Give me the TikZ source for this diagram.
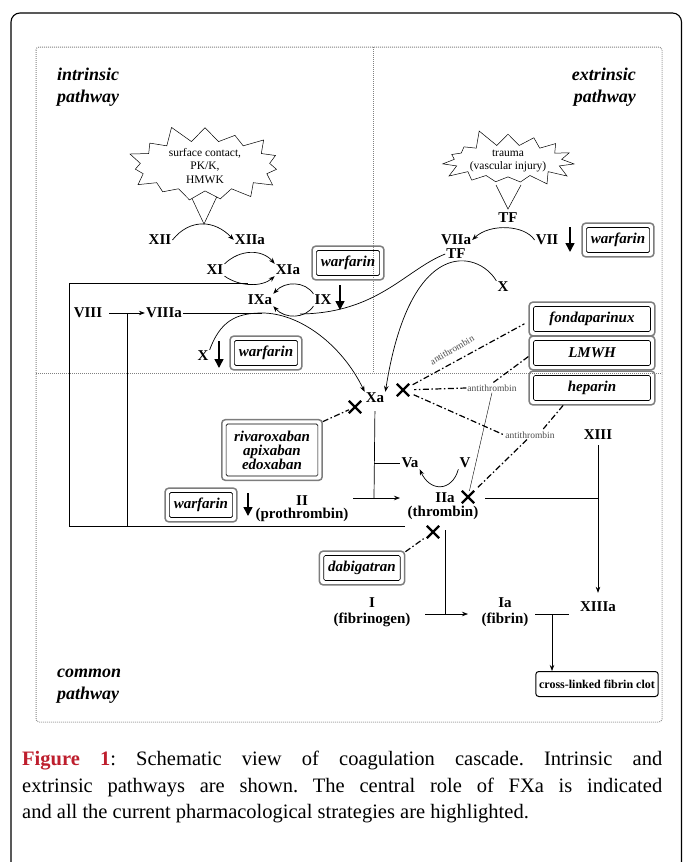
\documentclass[tikz,border=0pt]{standalone}
\usepackage{fontspec}
\setmainfont{Liberation Serif}
\usepackage{xcolor}
\usetikzlibrary{arrows.meta, shapes.symbols, shapes.misc, calc, positioning}
\tikzset{>=Stealth}
\definecolor{figred}{RGB}{190,30,45}
\definecolor{boxgray}{RGB}{125,125,125}
\tikzset{
  factor/.style={font=\fontsize{15}{14}\selectfont\bfseries, inner sep=1pt, align=center},
  pathlabel/.style={font=\fontsize{18}{22}\selectfont\bfseries\itshape, inner sep=0pt},
  drug/.style={draw, line width=0.6pt, rounded corners=1.5pt, inner xsep=4.5pt, inner ysep=2pt,
    minimum height=25pt, align=center, font=\fontsize{15}{14}\selectfont\bfseries\itshape,
    append after command={\pgfextra{\draw[boxgray, line width=1.5pt, rounded corners=3.5pt]
      ([shift={(-4pt,-4pt)}]\tikzlastnode.south west) rectangle
      ([shift={(4pt,4pt)}]\tikzlastnode.north east);}}},
  burst/.style={starburst, draw, fill=white, line width=0.5pt, starburst points=15,
    starburst point height=18pt, random starburst=11, align=center, inner sep=0pt,
    font=\fontsize{11.5}{13.5}\selectfont},
  xmark/.style={cross out, draw, line width=2.3pt, minimum size=10pt, inner sep=0pt},
  inhib/.style={line width=1.2pt, dash pattern=on 6pt off 2.5pt on 1.5pt off 2.5pt},
  atlabel/.style={font=\fontsize{9.5}{10}\selectfont, text=black!70, inner sep=1pt},
  link/.style={line width=0.7pt},
  act/.style={line width=0.7pt, -{Stealth[length=6pt,width=4.5pt]}},
  down/.style={line width=1.5pt, -{Triangle[length=9pt,width=9pt]}},
  dotline/.style={black!50, line width=1pt, dash pattern=on 0.8pt off 1.2pt},
  clotbox/.style={draw, line width=1pt, rounded corners=3pt, minimum width=120pt, minimum height=25pt,
    font=\fontsize{12}{12}\selectfont\bfseries},
}

\begin{document}
\begin{tikzpicture}[x=1pt, y=-1pt]
\useasboundingbox (0,0) rectangle (683,862);
% frames and pathway areas
\draw[line width=1.1pt, rounded corners=9pt] (11,13) rectangle (681.5,900);
\draw[dotline, rounded corners=3pt] (36,47) rectangle (662,722);
\draw[dotline] (373,47) -- (373,373);
\draw[dotline] (36,373) -- (662,373);

\node[pathlabel, anchor=base west] (intrA) at (57,80) {intrinsic};
\node[pathlabel, anchor=base west] (intrB) at (57,102) {pathway};
\node[pathlabel, anchor=base east] (extrA) at (636,80) {extrinsic};
\node[pathlabel, anchor=base east] (extrB) at (636,102) {pathway};
\node[pathlabel, anchor=base west] (commA) at (57,677) {common};
\node[pathlabel, anchor=base west] (commB) at (57,699) {pathway};

% triggers
\coordinate (contactTip) at (204,224);
\draw[line width=0.5pt] (188,190) -- (contactTip) -- (220,190);
\node[burst, minimum width=166pt, minimum height=62pt] (contact) at (205,166) {surface contact,\\PK/K,\\HMWK};
\coordinate (traumaTip) at (508,209);
\draw[line width=0.5pt] (496,185) -- (traumaTip) -- (521,185);
\node[burst, minimum width=122pt, minimum height=58pt, random starburst=5] (trauma) at (508,161) {trauma\\(vascular injury)};

% intrinsic pathway
\node[factor] (xii) at (160,240) {XII};
\node[factor] (xiia) at (250,240) {XIIa};
\draw[act] (xii.east) .. controls (190,218) and (215,220) .. (xiia.west);

\node[factor] (xi) at (215,270) {XI};
\node[factor] (xia) at (288,270) {XIa};
\draw[act] (xi.north east) .. controls (240,249) and (262,249) .. (xia.north west);
\draw[act] (xi.south east) .. controls (240,287) and (262,287) .. (xia.south west);

\node[drug] (warfA) at (348,263) {warfarin};
\node[factor] (ixa) at (260,300) {IXa};
\node[factor] (ix) at (323,300) {IX};
\draw[act] (ix.north west) .. controls (305,281) and (285,281) .. (ixa.north east);
\draw[act] (ix.south west) .. controls (305,319) and (285,319) .. (ixa.south east);
\coordinate (ixTop) at (340,285);
\coordinate (ixBot) at (340,310);
\draw[down] (ixTop) -- (ixBot);

\node[factor] (viii) at (88,313) {VIII};
\node[factor] (viiia) at (164,313) {VIIIa};
\draw[act, shorten <=6pt] (viii) -- (viiia);
\coordinate (tenase) at (262,313);
\draw[link] (viiia.east) -- (tenase);

\node[factor] (x) at (203,356) {X};
\coordinate (xTop) at (219,341);
\coordinate (xBot) at (219,368);
\draw[down] (xTop) -- (xBot);
\node[drug] (warfB) at (266,353) {warfarin};

% extrinsic pathway
\node[factor] (tf) at (508,218) {TF};
\node[factor] (viia) at (456,240) {VIIa};
\node[factor] (tfb) at (456,254) {TF};
\node[factor] (vii) at (547,240) {VII};
\draw[act] (vii.west) .. controls (525,225) and (490,223) .. (viia.east);
\coordinate (viiTop) at (570,227);
\coordinate (viiBot) at (570,252);
\draw[down] (viiTop) -- (viiBot);
\node[drug] (warfC) at (618,240) {warfarin};
\coordinate (ixCat) at (300,314);
\draw[link] (tfb.west) .. controls (405,270) and (378,313) .. (ixCat);
\node[factor] (xe) at (503,287) {X};

% common pathway
\node[factor] (xa) at (375,398) {Xa};
\draw[act] (x.north east) .. controls (220,322) and (235,313) .. (tenase)
  .. controls (300,313) and (342,345) .. (xa.north west);
\draw[act] (xe.north west) .. controls (478,250) and (410,235) .. (xa.north east);

\node[drug, minimum width=117pt] (fonda) at (592,319) {fondaparinux};
\node[drug, minimum width=117pt] (lmwh) at (592,353) {LMWH};
\node[drug, minimum width=117pt] (hep) at (592,388) {heparin};
\node[drug, inner xsep=8pt, minimum height=52pt] (xaInh) at (272,450) {rivaroxaban\\apixaban\\edoxaban};

\node[xmark] (mXaA) at (355,407) {};
\node[xmark] (mXaB) at (403,390) {};
\node[xmark] (mIIaA) at (468,497) {};
\node[xmark] (mIIaB) at (433,532) {};

\node[atlabel, rotate=30] (atA) at (452,350) {antithrombin};
\node[atlabel] (atB) at (492,388) {antithrombin};
\node[atlabel] (atC) at (530,435) {antithrombin};

\draw[inhib, shorten <=5pt] (xaInh.north east) -- (mXaA);
\draw[inhib, shorten <=4pt, shorten >=10pt] (mXaB) -- (fonda.west);
\draw[inhib, shorten <=6pt] (lmwh.west) -- (atB.north);
\draw[inhib, shorten >=5pt] (atB.west) -- (mXaB);
\draw[line width=0.4pt] (atB.south) -- (mIIaA);
\draw[inhib, shorten <=5pt] (mXaB) -- (atC.west);
\draw[inhib, shorten <=6pt, shorten >=2pt] ([xshift=-25pt]hep.south) -- ([xshift=12pt]atC.north);
\draw[inhib, shorten >=5pt] ([xshift=-3pt]atC.south) -- (mIIaA);

\coordinate (vaJ) at (374,463);
\coordinate (iiJ) at (374,498);
\draw[link, shorten <=7pt] (xa.south) -- (iiJ);
\node[factor] (va) at (410,463) {Va};
\node[factor] (v) at (465,463) {V};
\draw[link] (vaJ) -- (va.west);
\draw[act] (v.south west) .. controls (452,492) and (430,492) .. (va.south east);

\node[drug] (warfD) at (201,505) {warfarin};
\coordinate (iiTop) at (248,493);
\coordinate (iiBot) at (248,516);
\draw[down] (iiTop) -- (iiBot);
\node[factor] (ii) at (302,501) {II};
\node[factor] (proth) at (302,515) {(prothrombin)};
\node[factor] (iia) at (445,498) {IIa};
\node[factor] (thr) at (443,513) {(thrombin)};
\coordinate (iiStart) at (353,498);
\coordinate (iiEnd) at (400,498);
\draw[act] (iiStart) -- (iiEnd);

% thrombin feedback
\coordinate (fbStart) at (405,526);
\coordinate (fbCorner) at (69,526);
\coordinate (fbXi) at (248,283);
\coordinate (fbMid) at (127,526);
\coordinate (fbViii) at (127,313);
\draw[link] (fbStart) -- (fbCorner) |- (fbXi);
\draw[link] (fbMid) -- (fbViii);

\node[factor] (xiii) at (598,435) {XIII};
\node[factor] (xiiia) at (598,607) {XIIIa};
\coordinate (iiaOut) at (485,498);
\coordinate (xiiiJ) at (599,498);
\draw[link] (iiaOut) -- (xiiiJ);
\draw[act, shorten <=4pt, shorten >=8pt] (xiii.south) -- (xiiia.north);

\node[drug] (dabi) at (362,568) {dabigatran};
\draw[inhib, shorten <=6pt, shorten >=4pt] (dabi.north east) -- (mIIaB);

\node[factor] (i) at (372,603) {I};
\node[factor] (fbg) at (372,620) {(fibrinogen)};
\node[factor] (ia) at (505,603) {Ia};
\node[factor] (fbn) at (505,620) {(fibrin)};
\coordinate (thrDown) at (445,530);
\coordinate (iJ) at (445,614);
\draw[link] (thrDown) -- (iJ);
\coordinate (iStart) at (425,614);
\coordinate (iEnd) at (468,614);
\draw[act] (iStart) -- (iEnd);

\node[clotbox] (clot) at (597,684) {cross-linked fibrin clot};
\coordinate (fbnOut) at (535,614);
\coordinate (xiiiaIn) at (569,614);
\coordinate (clotJ) at (552,614);
\draw[link] (fbnOut) -- (xiiiaIn);
\draw[act] (clotJ) -- (clotJ |- clot.north);

% caption
\node[anchor=north west, text width=640pt, align=justify, inner sep=0pt,
  font=\fontsize{20.5}{26.5}\selectfont\frenchspacing] (cap) at (22,751)
  {\textcolor{figred}{\textbf{Figure 1}}: Schematic view of coagulation cascade. Intrinsic and\linebreak
   extrinsic pathways are shown. The central role of FXa is indicated\linebreak
   and all the current pharmacological strategies are highlighted.};
\end{tikzpicture}
\end{document}
